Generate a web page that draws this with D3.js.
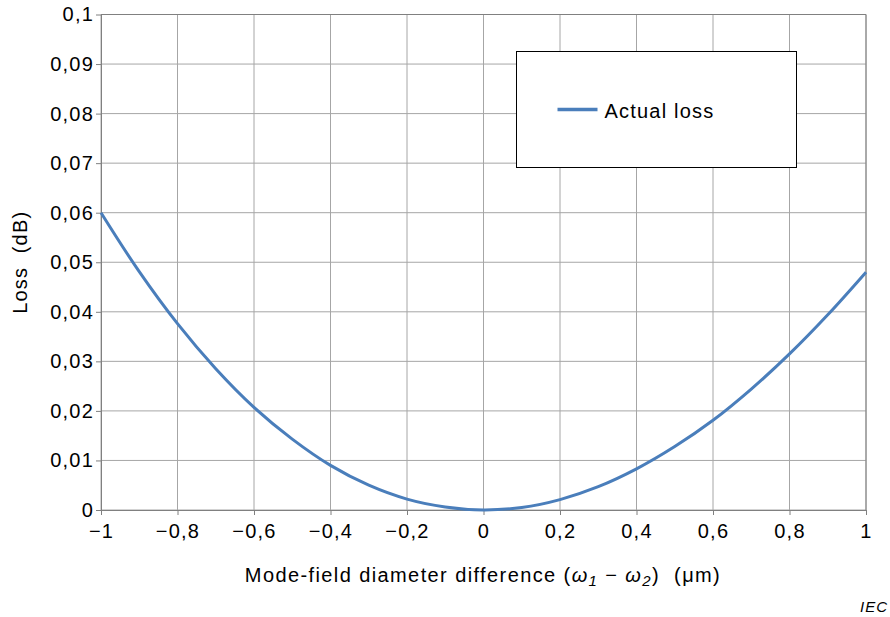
<!DOCTYPE html>
<html>
<head>
<meta charset="utf-8">
<script src="https://cdn.jsdelivr.net/npm/d3@7"></script>
<style>
  body { margin: 0; background: #fff; }
  svg { display: block; font-family: "Liberation Sans", Arial, sans-serif; }
</style>
</head>
<body>
<div id="chart"></div>
<script>
// mode-field diameter difference (µm)
var diffValues = [-1, -0.9, -0.8, -0.7, -0.6, -0.5, -0.4, -0.3, -0.2, -0.1, 0,
                  0.1, 0.2, 0.3, 0.4, 0.5, 0.6, 0.7, 0.8, 0.9, 1];
// actual loss (dB)
var lossValues = [0.060, 0.0481, 0.0376, 0.0285, 0.0207, 0.0143, 0.0090, 0.0050, 0.0022, 0.0006, 0,
                  0.0005, 0.0021, 0.0047, 0.0083, 0.0128, 0.0181, 0.0244, 0.0315, 0.0394, 0.048];
var xTicks = [-1, -0.8, -0.6, -0.4, -0.2, 0, 0.2, 0.4, 0.6, 0.8, 1];
var yTicks = [0, 0.01, 0.02, 0.03, 0.04, 0.05, 0.06, 0.07, 0.08, 0.09, 0.1];
var seriesName = "Actual loss";

window.onload = () => {
    var w = 890;
    var h = 617;
    var m = { left: 101, right: 24, top: 14.5, bottom: 107 };

    var data = diffValues.map((d, i) => { return { x: d, y: lossValues[i] }; });

    var xScale = d3.scaleLinear()
        .domain([-1, 1])
        .range([m.left, w - m.right]);

    var yScale = d3.scaleLinear()
        .domain([0, 0.1])
        .range([h - m.bottom, m.top]);

    var fmt = (d) => d3.format("")(+d.toFixed(2)).replace(".", ",").replace("-", "\u2212");

    var svg = d3.select("#chart")
        .append("svg")
        .attr("width", w)
        .attr("height", h)
        .attr("letter-spacing", 1.2);

    // grid
    svg.append("g")
        .selectAll("line")
        .data(xTicks)
        .join("line")
        .attr("x1", (d) => xScale(d)).attr("x2", (d) => xScale(d))
        .attr("y1", yScale(0.1)).attr("y2", yScale(0))
        .attr("stroke", "#a6a6a6").attr("stroke-width", 1);

    svg.append("g")
        .selectAll("line")
        .data(yTicks)
        .join("line")
        .attr("x1", xScale(-1)).attr("x2", xScale(1))
        .attr("y1", (d) => yScale(d)).attr("y2", (d) => yScale(d))
        .attr("stroke", "#a6a6a6").attr("stroke-width", 1);

    svg.append("line")
        .attr("x1", xScale(-1)).attr("x2", xScale(1))
        .attr("y1", yScale(0.1)).attr("y2", yScale(0.1))
        .attr("stroke", "#808080");

    svg.append("line")
        .attr("x1", xScale(1)).attr("x2", xScale(1))
        .attr("y1", yScale(0.1)).attr("y2", yScale(0))
        .attr("stroke", "#808080");

    var xAxis = d3.axisBottom(xScale)
        .tickValues(xTicks)
        .tickSize(5)
        .tickSizeOuter(0)
        .tickPadding(9)
        .tickFormat(fmt);

    var yAxis = d3.axisLeft(yScale)
        .tickValues(yTicks)
        .tickSize(5)
        .tickSizeOuter(0)
        .tickPadding(2)
        .tickFormat(fmt);

    var gx = svg.append("g")
        .attr("transform", `translate(0, ${yScale(0)})`)
        .call(xAxis);

    var gy = svg.append("g")
        .attr("transform", `translate(${xScale(-1)}, 0)`)
        .call(yAxis);

    [gx, gy].forEach((g) => {
        g.select(".domain").attr("stroke", "#808080");
        g.selectAll(".tick line").attr("stroke", "#808080");
        g.selectAll(".tick text")
            .attr("fill", "#000")
            .attr("font-size", 20)
            .attr("font-family", "Liberation Sans, Arial, sans-serif");
    });

    var line = d3.line()
        .x((d) => xScale(d.x))
        .y((d) => yScale(d.y))
        .curve(d3.curveCatmullRom);

    svg.append("path")
        .datum(data)
        .attr("fill", "none")
        .attr("stroke", "#4a7ebb")
        .attr("stroke-width", 3)
        .attr("d", line);

    // legend
    var lg = svg.append("g").attr("transform", "translate(516.5, 51.5)");
    lg.append("rect")
        .attr("width", 280).attr("height", 116)
        .attr("fill", "#fff").attr("stroke", "#000").attr("stroke-width", 1);
    lg.append("line")
        .attr("x1", 41).attr("x2", 81).attr("y1", 58).attr("y2", 58)
        .attr("stroke", "#4a7ebb").attr("stroke-width", 3.5);
    lg.append("text")
        .attr("x", 88).attr("y", 66)
        .attr("font-size", 20)
        .attr("letter-spacing", 1.2)
        .text(seriesName);

    // axis titles
    svg.append("text")
        .attr("transform", `translate(27, ${(yScale(0) + yScale(0.1)) / 2}) rotate(-90)`)
        .attr("text-anchor", "middle")
        .attr("font-size", 20)
        .attr("xml:space", "preserve")
        .text("Loss  (dB)");

    var xt = svg.append("text")
        .attr("x", 483).attr("y", 582)
        .attr("text-anchor", "middle")
        .attr("font-size", 20)
        .attr("letter-spacing", 1.4)
        .attr("xml:space", "preserve");
    xt.append("tspan").text("Mode-field diameter difference (");
    xt.append("tspan").attr("font-style", "italic").text("\u03c9");
    xt.append("tspan").attr("font-style", "italic").attr("font-size", 15).attr("dy", 4).text("1");
    xt.append("tspan").attr("dy", -4).text(" \u2212 ");
    xt.append("tspan").attr("font-style", "italic").text("\u03c9");
    xt.append("tspan").attr("font-style", "italic").attr("font-size", 15).attr("dy", 4).text("2");
    xt.append("tspan").attr("dy", -4).text(")  (\u03bcm)");

    svg.append("text")
        .attr("x", 888).attr("y", 612)
        .attr("text-anchor", "end")
        .attr("font-size", 15)
        .attr("font-style", "italic")
        .attr("letter-spacing", 1)
        .text("IEC");
};
</script>
</body>
</html>
